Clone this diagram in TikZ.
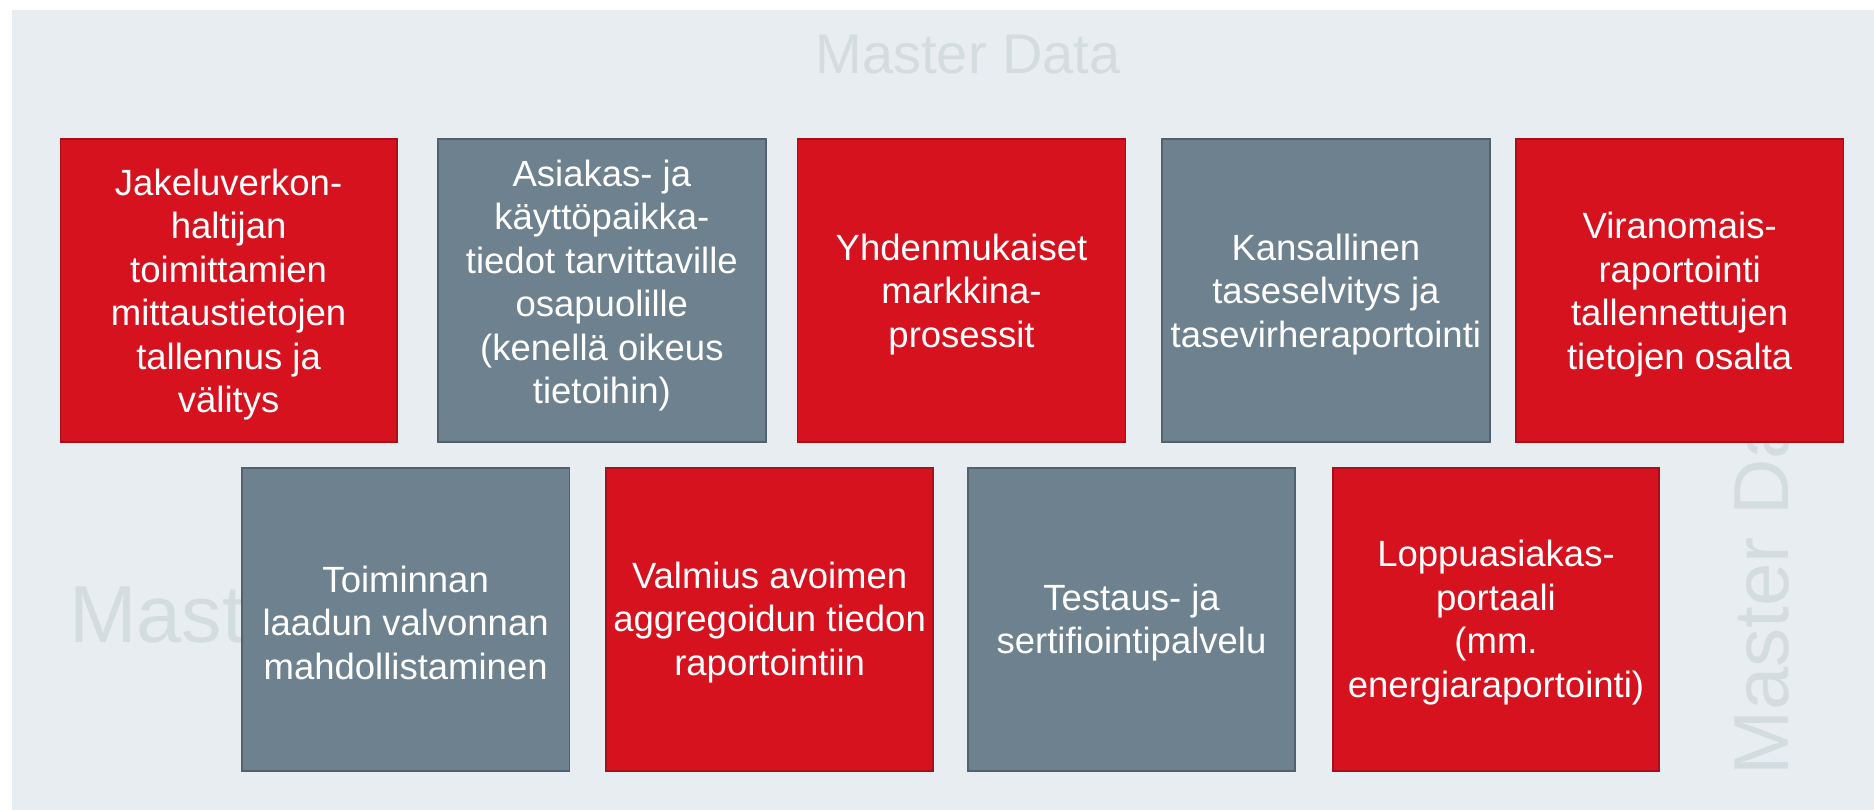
\documentclass[tikz,border=0pt]{standalone}
\usepackage{fontspec}
\setmainfont{Liberation Sans}
\definecolor{bgc}{HTML}{E8EDF1}
\definecolor{redf}{HTML}{D6121F}
\definecolor{redd}{HTML}{A80F18}
\definecolor{grayf}{HTML}{6D818E}
\definecolor{grayd}{HTML}{52616B}
\definecolor{wm}{HTML}{D3DDE0}
\tikzset{
  boxbase/.style={rectangle, line width=1.6pt, inner sep=0pt},
  redbox/.style={boxbase, fill=redf, draw=redd},
  graybox/.style={boxbase, fill=grayf, draw=grayd},
  boxtext/.style={text=white, align=center, inner sep=0pt, font=\fontsize{36.5}{43.5}\selectfont},
  wmark/.style={text=wm, inner sep=0pt}
}
\newcommand{\bx}[8]{% style, name, x1, y1, x2, y2, text yshift, text
  \node[#1, minimum width={#5-#3-1.6}, minimum height={#6-#4-1.6}] (#2) at ({(#3+#5)/2},{(#4+#6)/2}) {};
  \node[boxtext] (#2t) at ([yshift=#7]#2.center) {#8};}
\begin{document}
\begin{tikzpicture}[x=1pt,y=-1pt]
\useasboundingbox (0,0) rectangle (1874,810);
\fill[white] (0,0) rectangle (1874,810);
\fill[bgc] (12,10) rectangle (1874,810);
% watermark texts
\node[wmark, anchor=base, font=\fontsize{56}{60}\selectfont] (wmtop) at (968,74) {Master Data};
\node[wmark, anchor=base west, font=\fontsize{81}{85}\selectfont] (wmleft) at (69,642) {Master Data};
\node[wmark, anchor=base west, rotate=90, font=\fontsize{78}{82}\selectfont] (wmright) at (1788,776) {Master Data};
% row 1
\bx{redbox}{b1}{59.5}{138}{397.7}{443}{-4pt}{Jakeluverkon-\\haltijan\\toimittamien\\mittaustietojen\\tallennus ja\\välitys}
\bx{graybox}{b2}{437}{138}{766.7}{443}{5pt}{Asiakas- ja\\käyttöpaikka-\\tiedot tarvittaville\\osapuolille\\(kenellä oikeus\\tietoihin)}
\bx{redbox}{b3}{796.7}{138}{1126.3}{443}{-4pt}{Yhdenmukaiset\\markkina-\\prosessit}
\bx{graybox}{b4}{1161}{138}{1490.7}{443}{-4pt}{Kansallinen\\taseselvitys ja\\tasevirheraportointi}
\bx{redbox}{b5}{1515}{138}{1844.3}{443}{-4pt}{Viranomais-\\raportointi\\tallennettujen\\tietojen osalta}
% row 2
\bx{graybox}{b6}{241}{467}{570.3}{772}{-3pt}{Toiminnan\\laadun valvonnan\\mahdollistaminen}
\bx{redbox}{b7}{605.3}{467}{934}{772}{-3pt}{Valmius avoimen\\aggregoidun tiedon\\raportointiin}
\bx{graybox}{b8}{967}{467}{1296}{772}{-3pt}{Testaus- ja\\sertifiointipalvelu}
\bx{redbox}{b9}{1332}{467}{1660}{772}{-3pt}{Loppuasiakas-\\portaali\\(mm.\\energiaraportointi)}
\end{tikzpicture}
\end{document}
